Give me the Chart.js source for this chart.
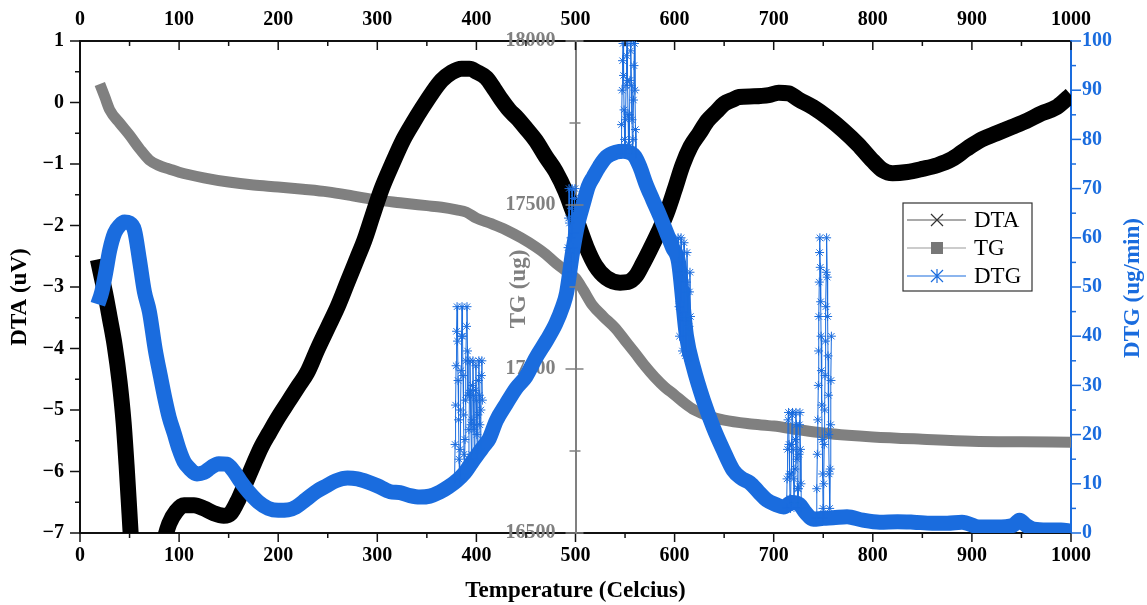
<!DOCTYPE html>
<html>
<head>
<meta charset="utf-8">
<title>DTA / TG / DTG</title>
<script src="https://cdn.jsdelivr.net/npm/chart.js@4.4.1/dist/chart.umd.min.js"></script>
<style>
  html, body { margin: 0; padding: 0; background: #fff; }
  #wrap { width: 1147px; height: 605px; position: relative; }
</style>
</head>
<body>
<div id="wrap"><canvas id="thermo"></canvas></div>
<script>
// DTA signal (uV) against temperature (C)
const dtaTemp = [18, 22, 26, 30, 35, 40, 44, 47, 50, 53, 57, 62, 70, 78, 84, 90, 97, 105, 115, 125, 135,
  145, 152, 160, 168, 176, 183, 191, 200, 210, 220, 229, 240, 250, 260, 270, 280, 287, 295, 304, 315,
  326, 336, 346, 355, 365, 375, 385, 393, 400, 410, 418, 425, 433, 441, 450, 460, 470, 480, 490, 497,
  503, 511, 520, 531, 545, 553, 561, 568, 575, 584, 592, 600, 608, 616, 625, 633, 642, 650, 658, 665,
  680, 695, 705, 715, 725, 740, 755, 770, 785, 800, 810, 820, 835, 850, 865, 880, 895, 910, 925, 940,
  955, 970, 985, 995, 1000];
const dtaVal = [-2.55, -2.85, -3.15, -3.5, -3.95, -4.55, -5.2, -5.9, -6.7, -7.5, -8.2, -8.6, -8.5, -7.8, -7.2, -6.85, -6.65, -6.55, -6.55, -6.6, -6.68,
  -6.72, -6.68, -6.45, -6.15, -5.85, -5.6, -5.37, -5.12, -4.87, -4.62, -4.4, -4.0, -3.66, -3.32, -2.92, -2.52, -2.24, -1.85, -1.42, -1.0,
  -0.61, -0.33, -0.07, 0.15, 0.36, 0.49, 0.55, 0.55, 0.5, 0.4, 0.22, 0.05, -0.12, -0.25, -0.42, -0.62, -0.88, -1.12, -1.45, -1.75,
  -2.0, -2.35, -2.65, -2.85, -2.93, -2.92, -2.82, -2.62, -2.4, -2.1, -1.8, -1.42, -1.02, -0.72, -0.5, -0.3, -0.15, -0.02, 0.04, 0.09,
  0.1, 0.12, 0.16, 0.15, 0.05, -0.08, -0.25, -0.45, -0.68, -0.95, -1.1, -1.15, -1.13, -1.08, -1.02, -0.92, -0.75, -0.6, -0.5, -0.4,
  -0.3, -0.18, -0.08, 0.05, 0.12];

// TG mass (ug)
const tgTemp = [20, 25, 30, 40, 50, 60, 70, 80, 90, 100, 125, 150, 175, 200, 225, 250, 275, 300, 323, 350,
  365, 380, 390, 400, 415, 430, 445, 460, 470, 480, 490, 500, 508, 517, 528, 540, 550, 560, 570, 580,
  590, 600, 610, 620, 635, 650, 675, 700, 725, 750, 775, 800, 850, 900, 950, 1000];
const tgVal = [17869, 17830, 17790, 17750, 17713, 17672, 17637, 17620, 17610, 17600, 17583, 17570, 17561, 17555, 17548, 17540, 17528, 17515, 17507, 17498,
  17493, 17485, 17478, 17460, 17443, 17424, 17400, 17372, 17350, 17323, 17300, 17277, 17240, 17195, 17160, 17125, 17087, 17049, 17010, 16975,
  16945, 16921, 16896, 16875, 16856, 16844, 16833, 16826, 16815, 16805, 16798, 16793, 16786, 16780, 16778, 16777];

// DTG rate (ug/min)
const dtgTemp = [18, 22, 26, 30, 35, 40, 45, 50, 55, 60, 65, 70, 76, 81, 86, 90, 95, 100, 105, 110,
  118, 125, 132, 140, 148, 155, 162, 170, 180, 190, 200, 210, 218, 228, 239, 248, 258, 270, 280, 290,
  300, 313, 323, 333, 343, 353, 363, 372, 380, 388, 395, 402, 408, 413, 420, 430, 440, 450, 460, 471,
  480, 487, 491, 497, 502, 508, 513, 518, 524, 531, 541, 548, 555, 560, 565, 571, 578, 585, 592, 598,
  604, 612, 619, 629, 639, 649, 659, 667, 676, 685, 693, 702, 710, 718, 726, 732, 740, 750, 760, 774,
  790, 807, 825, 841, 860, 875, 890, 908, 925, 942, 948, 955, 962, 976, 990, 1000];
const dtgVal = [46.5, 49, 53, 57.5, 61, 62.5, 63.2, 63, 61.5, 55.5, 49, 45, 37.2, 32, 27, 23.5, 20.3, 17, 14.5, 13.2,
  12, 12.3, 13.3, 14.1, 14.0, 12.6, 10.5, 8.4, 6.3, 5.0, 4.6, 4.7, 5.3, 6.8, 8.5, 9.5, 10.6, 11.2, 11.0, 10.4,
  9.6, 8.4, 8.2, 7.6, 7.3, 7.5, 8.3, 9.4, 10.6, 12.2, 14.2, 16.2, 17.8, 19.2, 22.8, 26.2, 29.4, 31.8, 35.6, 39.2,
  42.5, 46.0, 48.8, 57, 62.5, 67, 70.5, 72.4, 74.5, 76.4, 77.4, 77.6, 77.3, 76.5, 74.4, 71, 67.7, 64.5, 61, 58,
  55, 40, 33.7, 27, 21.5, 16.9, 12.8, 11.2, 10.2, 8.3, 6.7, 5.8, 5.3, 6.2, 5.8, 4.2, 2.8, 3.0, 3.1, 3.3,
  2.6, 2.2, 2.3, 2.2, 2.0, 2.0, 2.2, 1.2, 1.2, 1.6, 2.6, 1.5, 0.8, 0.6, 0.6, 0.4];

// DTG bursts drawn with markers; null breaks the line between bursts
const burstTemp = [
  378, 378.5, 379, 379.5, 380, 380.5, 381, 381.5, 382, 382.5, 383, 383.5, 384, 384.5, 385, 385.5, 386, 386.5, 387, 387.5,
  388, 388.5, 389, 389.5, 390, 390.5, 391, 391.5, 391.7,
  392, 392.5, 393, 393.5, 394, 394.5, 395, 395.5, 396, 396.5, 397, 397.5, 398, 398.5, 399, 399.5, 400, 400.5, 401, 401.5,
  402, 402.5, 403, 403.5, 404, 404.5, 405, 405.5, 406, 406.2,
  492, 492.5, 493, 493.5, 494, 494.5, 495, 495.5, 496, 496.5, 497, 497.5, 498, 498.5, 499, 499.5, 499.7,
  546, 546.5, 547, 547.5, 548, 548.5, 549, 549.5, 550, 550.5, 551, 551.5, 552, 552.5, 553, 553.5, 554, 554.5, 555, 555.5,
  556, 556.5, 557, 557.5, 558, 558.5, 559, 559.5, 560, 560.5, 561, 561.2,
  603, 603.5, 604, 604.5, 605, 605.5, 606, 606.5, 607, 607.5, 608, 608.5, 609, 609.5, 610, 610.5, 611, 611.5, 612, 612.5,
  613, 613.5, 614, 614.5, 615, 615.5, 616, 616.5, 616.7,
  713, 713.5, 714, 714.5, 715, 715.5, 716, 716.5, 717, 717.5, 718, 718.5, 719, 719.5, 720, 720.5, 721, 721.5, 722, 722.5,
  723, 723.5, 724, 724.5, 725, 725.5, 726, 726.5, 727, 727.5, 728, 728.2,
  743, 743.5, 744, 744.5, 745, 745.3, 745.6, 746, 746.3, 746.6, 747, 747.4, 747.8, 748.2, 748.6, 749, 749.4, 749.8, 750.2, 750.6,
  751, 751.4, 751.8, 752.2, 752.6, 753, 753.4, 754, 754.4, 754.8, 755.2, 755.6, 756, 756.5, 757, 757.4, 757.8, 758.2];
const burstVal = [
  11, 18, 26, 34, 41, 46, 39, 31, 23, 15, 11, 17, 25, 33, 40, 46, 40, 32, 24, 16,
  12, 19, 27, 35, 42, 46, 37, 28, null,
  15, 21, 28, 35, 29, 22, 16, 23, 30, 35, 28, 21, 15, 22, 29, 34, 27, 20, 16, 24,
  31, 35, 28, 22, 17, 25, 32, 35, 27, null,
  52, 58, 64, 70, 63, 57, 53, 60, 66, 70, 64, 58, 55, 61, 68, 70, null,
  77, 83, 90, 96, 99.5, 93, 86, 80, 77, 84, 91, 97, 99.5, 92, 85, 79, 78, 85, 92, 98,
  99.5, 91, 84, 78, 80, 88, 95, 99.5, 90, 82, 77, null,
  55, 60, 53, 46, 40, 47, 54, 60, 52, 44, 37, 45, 53, 59, 51, 43, 36, 44, 51, 57,
  49, 41, 35, 42, 49, 53, 44, 37, null,
  5, 11, 17, 23, 24.5, 18, 12, 7, 5, 12, 18, 24, 24.5, 17, 11, 6, 6, 13, 19, 24.5,
  22, 15, 9, 5, 9, 16, 22, 24.5, 17, 10, 5, null,
  3, 9, 16, 23, 30, 37, 44, 51, 57, 60, 54, 47, 40, 33, 26, 19, 12, 5, 3, 10,
  18, 25, 32, 39, 46, 53, 60, 52, 44, 36, 28, 20, 12, 5, 13, 22, 31, 40];

const pts = (xs, ys) => xs.map((x, i) => ({ x: x, y: ys[i] }));

const BLUE = '#1a6cde';
const GREY = '#808080';
const serif = '"Liberation Serif", "Times New Roman", serif';
const tickFont = { family: serif, size: 20, weight: 'bold' };

// tick marks with long majors and short minors, plus rotated titles and the legend box
const decor = {
  id: 'decor',
  afterDraw(chart) {
    const ctx = chart.ctx;
    const ca = chart.chartArea;
    const s = chart.scales;

    function marks(scale, isMajor, color, draw) {
      ctx.save();
      ctx.strokeStyle = color;
      ctx.lineWidth = 1.5;
      scale.ticks.forEach(t => {
        const p = scale.getPixelForValue(t.value);
        const big = isMajor(t.value);
        ctx.beginPath();
        draw(p, big);
        ctx.stroke();
      });
      ctx.restore();
    }
    const hundred = v => v % 100 === 0;
    marks(s.x, hundred, '#111', (p, big) => { ctx.moveTo(p, ca.bottom); ctx.lineTo(p, ca.bottom + (big ? 9 : 5)); });
    marks(s.xTop, hundred, '#111', (p, big) => { ctx.moveTo(p, ca.top); ctx.lineTo(p, ca.top + (big ? 9 : 5)); });
    marks(s.y, v => Number.isInteger(v), '#111', (p, big) => { ctx.moveTo(ca.left, p); ctx.lineTo(ca.left - (big ? 10 : 5), p); });
    marks(s.yDTG, v => v % 10 === 0, BLUE, (p, big) => { ctx.moveTo(ca.right, p); ctx.lineTo(ca.right + (big ? 10 : 5), p); });
    const tgX = s.x.getPixelForValue(500);
    marks(s.yTG, v => v % 500 === 0, GREY, (p, big) => {
      ctx.moveTo(tgX - (big ? 10 : 6), p); ctx.lineTo(tgX + (big ? 8 : 5), p);
    });

    // vertical axis titles, read bottom to top
    function vTitle(text, x, y, color) {
      ctx.save();
      ctx.translate(x, y);
      ctx.rotate(-Math.PI / 2);
      ctx.font = 'bold 23px ' + serif;
      ctx.fillStyle = color;
      ctx.textAlign = 'center';
      ctx.textBaseline = 'middle';
      ctx.fillText(text, 0, 0);
      ctx.restore();
    }
    vTitle('DTA (uV)', 20, 297, '#000');
    vTitle('TG (ug)', tgX - 56, 289, GREY);
    vTitle('DTG (ug/min)', 1133, 288, BLUE);

    // legend
    const L = ca.right - 168, T = ca.top + 162, W = 129, H = 88;
    ctx.save();
    ctx.fillStyle = '#fff';
    ctx.fillRect(L, T, W, H);
    ctx.strokeStyle = '#333';
    ctx.lineWidth = 1.2;
    ctx.strokeRect(L, T, W, H);
    const rows = [
      { label: 'DTA', line: '#555', mark: 'x', y: T + 17 },
      { label: 'TG', line: '#9a9a9a', mark: 'sq', y: T + 45 },
      { label: 'DTG', line: BLUE, mark: 'star', y: T + 73 }
    ];
    rows.forEach(r => {
      const mx = L + 34;
      ctx.strokeStyle = r.line;
      ctx.lineWidth = 1.2;
      ctx.beginPath();
      ctx.moveTo(L + 4, r.y); ctx.lineTo(L + 63, r.y);
      ctx.stroke();
      if (r.mark === 'x') {
        ctx.strokeStyle = '#333';
        ctx.beginPath();
        ctx.moveTo(mx - 6, r.y - 6); ctx.lineTo(mx + 6, r.y + 6);
        ctx.moveTo(mx - 6, r.y + 6); ctx.lineTo(mx + 6, r.y - 6);
        ctx.stroke();
      } else if (r.mark === 'sq') {
        ctx.fillStyle = '#777';
        ctx.fillRect(mx - 6, r.y - 6, 12, 12);
      } else {
        ctx.strokeStyle = BLUE;
        ctx.beginPath();
        ctx.moveTo(mx, r.y - 7); ctx.lineTo(mx, r.y + 7);
        ctx.moveTo(mx - 6, r.y - 6); ctx.lineTo(mx + 6, r.y + 6);
        ctx.moveTo(mx - 6, r.y + 6); ctx.lineTo(mx + 6, r.y - 6);
        ctx.stroke();
      }
      ctx.fillStyle = '#000';
      ctx.font = '23px ' + serif;
      ctx.textAlign = 'left';
      ctx.textBaseline = 'middle';
      ctx.fillText(r.label, L + 71, r.y + 1);
    });
    ctx.restore();
  }
};

const hiddenGrid = { drawOnChartArea: false, drawTicks: false };

new Chart(document.getElementById('thermo'), {
  type: 'line',
  data: {
    datasets: [{
      label: 'DTG bursts',
      data: pts(burstTemp, burstVal),
      yAxisID: 'yDTG',
      borderColor: BLUE,
      borderWidth: 1,
      pointStyle: 'star',
      pointRadius: 4.5,
      pointBorderColor: BLUE,
      pointBorderWidth: 1,
      spanGaps: false,
      order: 0
    }, {
      label: 'DTG',
      data: pts(dtgTemp, dtgVal),
      yAxisID: 'yDTG',
      borderColor: BLUE,
      borderWidth: 15,
      pointRadius: 0,
      cubicInterpolationMode: 'monotone',
      order: 1
    }, {
      label: 'DTA',
      data: pts(dtaTemp, dtaVal),
      yAxisID: 'y',
      borderColor: '#000',
      borderWidth: 16,
      pointRadius: 0,
      cubicInterpolationMode: 'monotone',
      clip: 0,
      order: 2
    }, {
      label: 'TG',
      data: pts(tgTemp, tgVal),
      yAxisID: 'yTG',
      borderColor: GREY,
      borderWidth: 11,
      pointRadius: 0,
      cubicInterpolationMode: 'monotone',
      order: 3
    }]
  },
  options: {
    responsive: true,
    maintainAspectRatio: false,
    animation: false,
    layout: { padding: 0 },
    plugins: { legend: { display: false }, tooltip: { enabled: false } },
    scales: {
      x: {
        type: 'linear', position: 'bottom', min: 0, max: 1000,
        ticks: { stepSize: 50, autoSkip: false, maxRotation: 0, padding: 11, color: '#000', font: tickFont,
          callback: v => v % 100 === 0 ? v : '' },
        grid: hiddenGrid,
        border: { color: '#111', width: 2 },
        title: { display: true, text: 'Temperature (Celcius)', color: '#000',
          font: { family: serif, size: 23, weight: 'bold' }, padding: { top: 0, bottom: 0 } },
        afterFit: sc => { sc.height = 72; }
      },
      xTop: {
        type: 'linear', position: 'top', min: 0, max: 1000,
        ticks: { stepSize: 50, autoSkip: false, maxRotation: 0, padding: 9, color: '#000', font: tickFont,
          callback: v => v % 100 === 0 ? v : '' },
        grid: hiddenGrid,
        border: { color: '#111', width: 2 },
        afterFit: sc => { sc.height = 41; }
      },
      y: {
        position: 'left', min: -7, max: 1,
        ticks: { stepSize: 0.5, autoSkip: false, padding: 16, color: '#000', font: tickFont,
          callback: v => Number.isInteger(v) ? String(v).replace('-', '\u2212') : '' },
        grid: hiddenGrid,
        border: { color: '#111', width: 2 },
        afterFit: sc => { sc.width = 80; }
      },
      yTG: {
        // labels of an axis placed at x = 500 end on the line itself, so pad them with spaces
        position: { x: 500 }, min: 16500, max: 18000,
        ticks: { stepSize: 250, autoSkip: false, color: GREY, font: tickFont,
          callback: v => v % 500 === 0 ? v + '    ' : '' },
        grid: hiddenGrid,
        border: { color: GREY, width: 2 }
      },
      yDTG: {
        position: 'right', min: 0, max: 100,
        ticks: { stepSize: 5, autoSkip: false, padding: 11, color: BLUE, font: tickFont,
          callback: v => v % 10 === 0 ? v : '' },
        grid: hiddenGrid,
        border: { color: BLUE, width: 2 },
        afterFit: sc => { sc.width = 76; }
      }
    }
  },
  plugins: [decor]
});
</script>
</body>
</html>
